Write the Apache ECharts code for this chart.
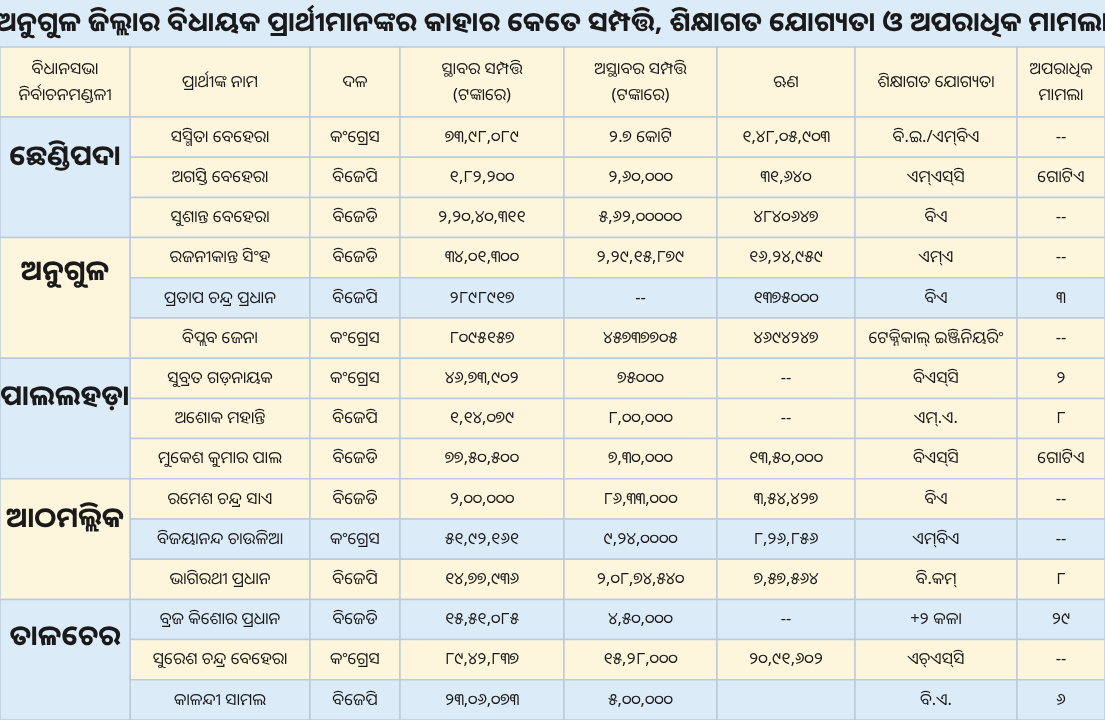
<!DOCTYPE html>
<html><head><meta charset="utf-8">
<script src="https://cdn.jsdelivr.net/npm/echarts@6/dist/echarts.min.js"></script>
<style>html,body{margin:0;padding:0;background:#dcebf8}#c{width:1105px;height:720px}</style>
</head><body><div id="c"></div>
<script>
const title = "ଅନୁଗୁଳ ଜିଲ୍ଲାର ବିଧାୟକ ପ୍ରାର୍ଥୀମାନଙ୍କର କାହାର କେତେ ସମ୍ପତ୍ତି, ଶିକ୍ଷାଗତ ଯୋଗ୍ୟତା ଓ ଅପରାଧିକ ମାମଲା";
const headers = ["ବିଧାନସଭା\nନିର୍ବାଚନମଣ୍ଡଳୀ","ପ୍ରାର୍ଥୀଙ୍କ ନାମ","ଦଳ","ସ୍ଥାବର ସମ୍ପତ୍ତି\n(ଟଙ୍କାରେ)","ଅସ୍ଥାବର ସମ୍ପତ୍ତି\n(ଟଙ୍କାରେ)","ଋଣ","ଶିକ୍ଷାଗତ ଯୋଗ୍ୟତା","ଅପରାଧିକ\nମାମଲା"];
const constituencies = ["ଛେଣ୍ଡିପଦା","ଅନୁଗୁଳ","ପାଲଲହଡ଼ା","ଆଠମଲ୍ଲିକ","ତାଳଚେର"];
const names = ["ସସ୍ମିତା ବେହେରା","ଅଗସ୍ତି ବେହେରା","ସୁଶାନ୍ତ ବେହେରା","ରଜନୀକାନ୍ତ ସିଂହ","ପ୍ରତାପ ଚନ୍ଦ୍ର ପ୍ରଧାନ","ବିପ୍ଲବ ଜେନା","ସୁବ୍ରତ ଗଡ଼ନାୟକ","ଅଶୋକ ମହାନ୍ତି","ମୁକେଶ କୁମାର ପାଲ","ରମେଶ ଚନ୍ଦ୍ର ସାଏ","ବିଜୟାନନ୍ଦ ଚାଉଳିଆ","ଭାଗିରଥୀ ପ୍ରଧାନ","ବ୍ରଜ କିଶୋର ପ୍ରଧାନ","ସୁରେଶ ଚନ୍ଦ୍ର ବେହେରା","କାଳନ୍ଦୀ ସାମଲ"];
const parties = ["କଂଗ୍ରେସ","ବିଜେପି","ବିଜେଡି","ବିଜେଡି","ବିଜେପି","କଂଗ୍ରେସ","କଂଗ୍ରେସ","ବିଜେପି","ବିଜେଡି","ବିଜେଡି","କଂଗ୍ରେସ","ବିଜେପି","ବିଜେଡି","କଂଗ୍ରେସ","ବିଜେପି"];
const immovable = ["୭୩,୯୮,୦୮୯","୧,୮୨,୨୦୦","୨,୨୦,୪୦,୩୧୧","୩୪,୦୧,୩୦୦","୨୮୯୮୯୧୭","୮୦୯୫୧୫୭","୪୬,୭୩,୯୦୨","୧,୧୪,୦୭୯","୭୭,୫୦,୫୦୦","୨,୦୦,୦୦୦","୫୧,୯୨,୧୬୧","୧୪,୭୭,୯୩୬","୧୫,୫୧,୦୮୫","୮୯,୪୨,୮୩୭","୨୩,୦୬,୦୭୩"];
const movable = ["୨.୭ କୋଟି","୨,୬୦,୦୦୦","୫,୬୨,୦୦୦୦୦","୨,୨୯,୧୫,୮୭୯","--","୪୫୭୩୭୭୦୫","୭୫୦୦୦","୮,୦୦,୦୦୦","୭,୩୦,୦୦୦","୮୬,୩୩,୦୦୦","୯,୨୪,୦୦୦୦","୨,୦୮,୭୪,୫୪୦","୪,୫୦,୦୦୦","୧୫,୨୮,୦୦୦","୫,୦୦,୦୦୦"];
const loans = ["୧,୪୮,୦୫,୯୦୩","୩୧,୬୪୦","୪୮୪୦୬୪୭","୧୬,୨୪,୯୫୯","୧୩୭୫୦୦୦","୪୬୯୪୨୪୭","--","--","୧୩,୫୦,୦୦୦","୩,୫୪,୪୨୭","୮,୨୬,୮୫୬","୭,୫୭,୫୬୪","--","୨୦,୯୧,୬୦୨",""];
const education = ["ବି.ଇ./ଏମ୍‌ବିଏ","ଏମ୍‌ଏସ୍‌ସି","ବିଏ","ଏମ୍‌ଏ","ବିଏ","ଟେକ୍ନିକାଲ୍ ଇଞ୍ଜିନିୟରିଂ","ବିଏସ୍‌ସି","ଏମ୍.ଏ.","ବିଏସ୍‌ସି","ବିଏ","ଏମ୍‌ବିଏ","ବି.କମ୍","+୨ କଳା","ଏଚ୍‌ଏସ୍‌ସି","ବି.ଏ."];
const cases = ["--","ଗୋଟିଏ","--","--","୩","--","୨","୮","ଗୋଟିଏ","--","--","୮","୨୯","--","୬"];

const CREAM="#fdf6dc", BLUE="#dcebf8", LINE="#bccbdc";
const colX=[0,130,310,400,564,717,855,1017,1105];
const top0=117, rh=40.2;
const rowBg=[CREAM,CREAM,CREAM,CREAM,BLUE,CREAM,CREAM,CREAM,CREAM,CREAM,BLUE,CREAM,BLUE,CREAM,BLUE];
const groupBg=[BLUE,CREAM,BLUE,CREAM,BLUE];
const FONT='"Noto Sans","Noto Sans Oriya","Lohit Odia",sans-serif';
const g=[];
function rect(x,y,w,h,fill){g.push({type:'rect',shape:{x,y,width:w,height:h},style:{fill,stroke:LINE,lineWidth:1.5},silent:true});}
function txt(x,y,t,size,weight){g.push({type:'text',x,y,style:{text:t,font:(weight||'normal')+' '+size+'px '+FONT,fill:'#1a1a1a',align:'center',verticalAlign:'middle',lineHeight:size*1.6},silent:true});}
txt(552,23,title,27,'bold');
for(let c=0;c<8;c++){rect(colX[c],47,colX[c+1]-colX[c],70,CREAM);txt((colX[c]+colX[c+1])/2,82,headers[c],16.5);}
const cols=[names,parties,immovable,movable,loans,education,cases];
for(let r=0;r<names.length;r++){
  const y=top0+r*rh;
  for(let c=1;c<8;c++){rect(colX[c],y,colX[c+1]-colX[c],rh,rowBg[r]);txt((colX[c]+colX[c+1])/2,y+rh/2,cols[c-1][r],16.5);}
}
const off=[20,26,21,20,23];
for(let k=0;k<constituencies.length;k++){
  const y=top0+k*3*rh;
  rect(0,y,130,3*rh,groupBg[k]);
  txt(65,y+1.5*rh-off[k],constituencies[k],28,'bold');
}
const chart=echarts.init(document.getElementById('c'));
chart.setOption({backgroundColor:BLUE,animation:false,graphic:g});
</script></body></html>
